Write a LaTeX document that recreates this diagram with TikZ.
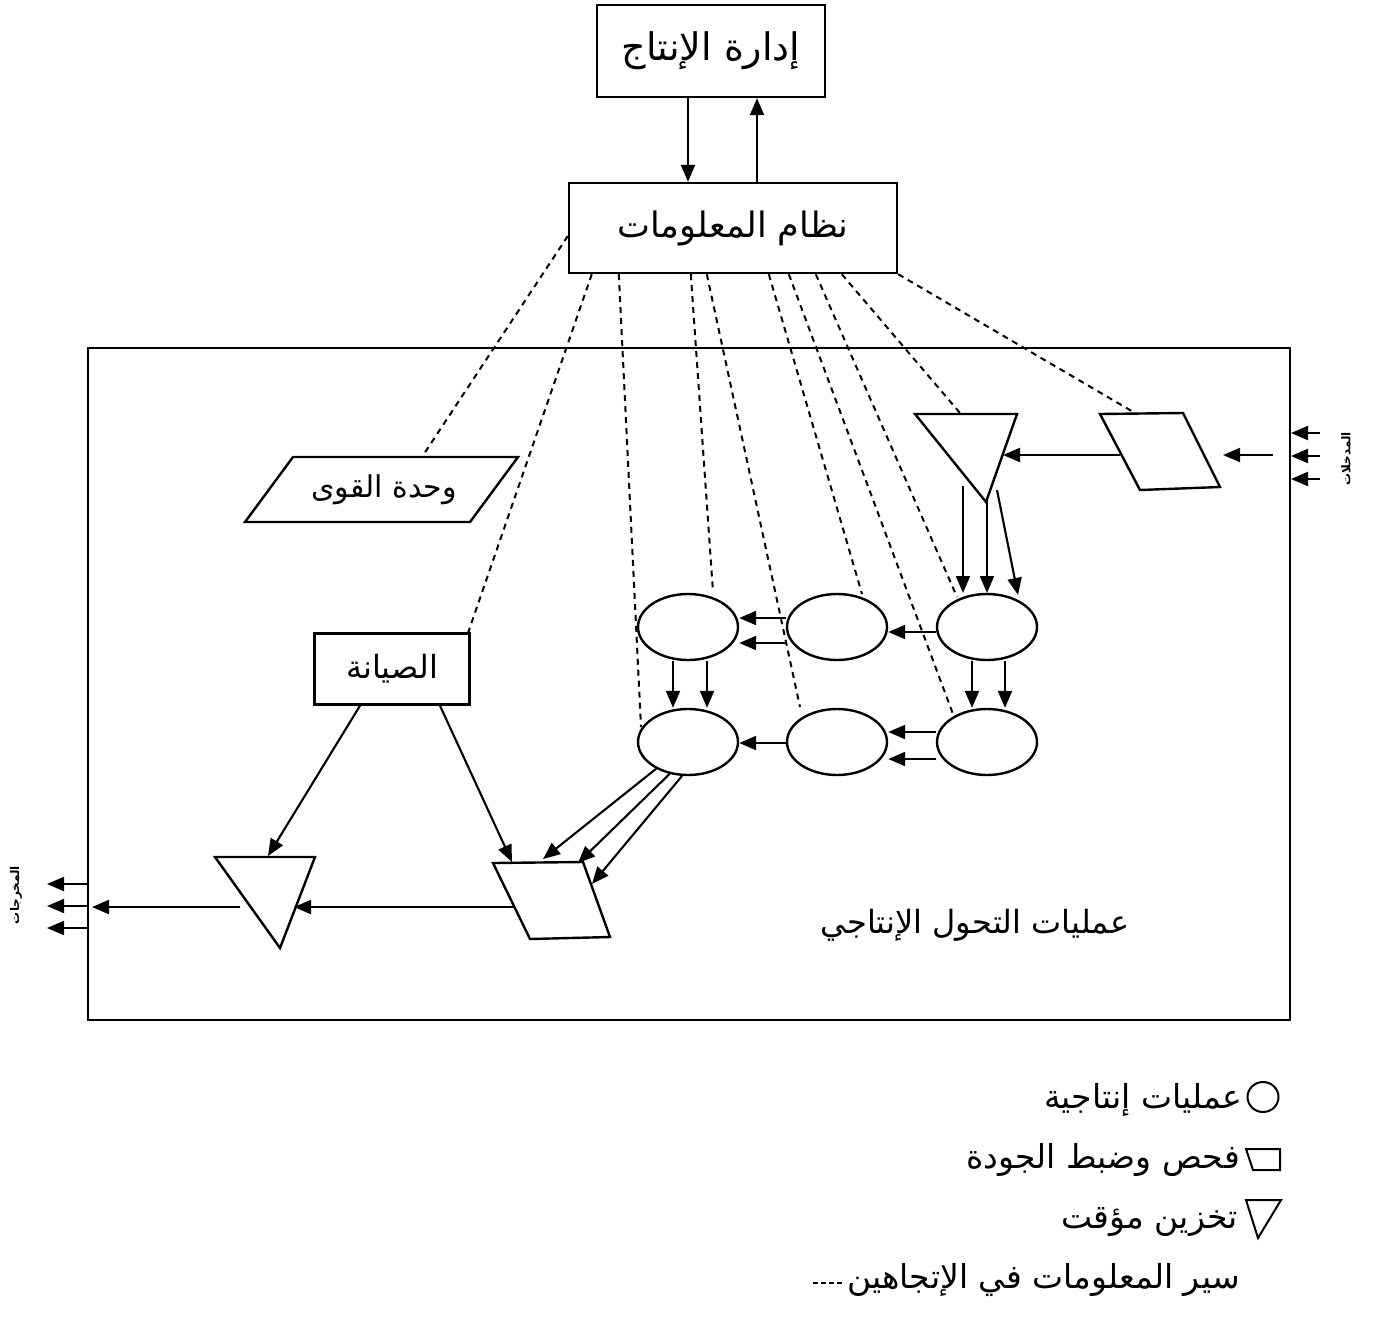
\documentclass[tikz,border=0pt]{standalone}
\usepackage{fontspec}
\usetikzlibrary{arrows.meta,shapes.geometric,calc}
\TeXXeTstate=1
\newfontfamily\arabicfont[Script=Arabic]{DejaVu Sans}
\newcommand{\artxt}[1]{{\arabicfont\beginR #1\endR}}
\begin{document}
\begin{tikzpicture}[x=1pt,y=-1pt,
  shp/.style={draw,line width=2.4pt,line join=miter},
  box/.style={shp,rectangle,inner sep=0pt},
  proc/.style={shp,ellipse,minimum width=100pt,minimum height=66pt,inner sep=0pt},
  arr/.style={line width=2.1pt,-{Triangle[length=17pt,width=14pt]}},
  infoline/.style={line width=2pt,dash pattern=on 6pt off 5pt},
  lbl/.style={inner sep=0pt,font=\fontsize{30}{34}\selectfont},
  leg/.style={inner sep=0pt,font=\fontsize{33}{36}\selectfont},
  side/.style={inner sep=0pt,font=\bfseries\fontsize{12}{14}\selectfont,rotate=90},
]
\useasboundingbox (0,0) rectangle (1375,1318);
\fill[white] (0,0) rectangle (1375,1318);

% frame of the transformation system
\draw[shp] (88,348) rectangle (1290,1020);

% management and information system
\node[box,minimum width=228pt,minimum height=92pt,font=\fontsize{38}{42}\selectfont] (prod) at (711,51) {\artxt{إدارة الإنتاج}};
\node[box,minimum width=328pt,minimum height=90pt,font=\fontsize{35}{40}\selectfont] (info) at (733,228) {\artxt{نظام المعلومات}};
\coordinate (xa) at (688,0);
\coordinate (xb) at (757,0);
\draw[arr] (prod.south -| xa) -- (info.north -| xa);
\draw[arr] (info.north -| xb) -- (prod.south -| xb);

% power unit
\coordinate (P1) at (293,457);
\coordinate (P2) at (518,457);
\coordinate (P3) at (470,522);
\coordinate (P4) at (245,522);
\draw[shp] (P1) -- (P2) -- (P3) -- (P4) -- cycle;
\node[lbl] (pu) at (384,490) {\artxt{وحدة القوى}};

% maintenance
\node[box,minimum width=155pt,minimum height=71pt,font=\fontsize{32}{36}\selectfont] (maint) at (392,669) {\artxt{الصيانة}};

% top-right quality check and storage
\coordinate (Q1) at (1100,414);
\coordinate (Q2) at (1183,413);
\coordinate (Q3) at (1220,487);
\coordinate (Q4) at (1140,490);
\draw[shp] (Q1) -- (Q2) -- (Q3) -- (Q4) -- cycle;
\coordinate (S1) at (915,414);
\coordinate (S2) at (1017,414);
\coordinate (S3) at (986,502);
\draw[shp] (S1) -- (S2) -- (S3) -- cycle;

% bottom quality check and storage
\coordinate (B1) at (493,863);
\coordinate (B2) at (583,862);
\coordinate (B3) at (610,937);
\coordinate (B4) at (530,939);
\draw[shp] (B1) -- (B2) -- (B3) -- (B4) -- cycle;
\coordinate (T1) at (215,857);
\coordinate (T2) at (315,857);
\coordinate (T3) at (280,948);
\draw[shp] (T1) -- (T2) -- (T3) -- cycle;

% processes
\node[proc] (e1) at (688,627) {};
\node[proc] (e2) at (837,627) {};
\node[proc] (e3) at (987,627) {};
\node[proc] (e4) at (688,742) {};
\node[proc] (e5) at (837,742) {};
\node[proc] (e6) at (987,742) {};

% inputs
\foreach \yy/\nm in {433/a,456/b,479/c}{
  \coordinate (in\nm s) at (1320,\yy);
  \coordinate (in\nm e) at (1291,\yy);
  \draw[arr] (in\nm s) -- (in\nm e);
}
\node[side] (inlabel) at (1346,459) {\artxt{المدخلات}};
\coordinate (qa) at (1273,455);
\coordinate (qb) at (1223,455);
\draw[arr] (qa) -- (qb);
\coordinate (qc) at (1120,455);
\coordinate (sc) at (1003,455);
\draw[arr] (qc) -- (sc);

% storage to first process
\coordinate (s1a) at (963,486);
\coordinate (s1b) at (963,593);
\coordinate (s2a) at (987,500);
\coordinate (s2b) at (987,593);
\coordinate (s3a) at (997,490);
\coordinate (s3b) at (1018,595);
\draw[arr] (s1a) -- (s1b);
\draw[arr] (s2a) -- (s2b);
\draw[arr] (s3a) -- (s3b);

% process flows
\draw[arr] ($(e3.west)+(0,5)$) -- ($(e2.east)+(0,5)$);
\draw[arr] ($(e2.west)+(0,-9)$) -- ($(e1.east)+(0,-9)$);
\draw[arr] ($(e2.west)+(0,16)$) -- ($(e1.east)+(0,16)$);
\draw[arr] ($(e1.south)+(-15,0)$) -- ($(e4.north)+(-15,0)$);
\draw[arr] ($(e1.south)+(19,0)$) -- ($(e4.north)+(19,0)$);
\draw[arr] ($(e3.south)+(-15,0)$) -- ($(e6.north)+(-15,0)$);
\draw[arr] ($(e3.south)+(18,0)$) -- ($(e6.north)+(18,0)$);
\draw[arr] ($(e6.west)+(0,-10)$) -- ($(e5.east)+(0,-10)$);
\draw[arr] ($(e6.west)+(0,17)$) -- ($(e5.east)+(0,17)$);
\draw[arr] ($(e5.west)+(0,1)$) -- ($(e4.east)+(0,1)$);

% to bottom quality check
\coordinate (b1) at (543,859);
\coordinate (b2) at (578,863);
\coordinate (b3) at (592,884);
\draw[arr] (e4.-140) -- (b1);
\draw[arr] (e4.-120) -- (b2);
\draw[arr] (e4.-100) -- (b3);

% maintenance arrows
\coordinate (mt) at (268,856);
\coordinate (mb) at (512,862);
\draw[arr] ($(maint.south)+(-32,0)$) -- (mt);
\draw[arr] ($(maint.south)+(48,0)$) -- (mb);

% bottom flow
\coordinate (bq) at (514,907);
\coordinate (bt) at (294,907);
\draw[arr] (bq) -- (bt);
\coordinate (tq) at (240,907);
\coordinate (tf) at (92,907);
\draw[arr] (tq) -- (tf);
\foreach \yy/\nm in {884/a,906/b,928/c}{
  \coordinate (out\nm s) at (88,\yy);
  \coordinate (out\nm e) at (47,\yy);
  \draw[arr] (out\nm s) -- (out\nm e);
}
\node[side] (outlabel) at (16,895) {\artxt{المخرجات}};

\node[lbl,font=\fontsize{32}{36}\selectfont] (sys) at (975,925) {\artxt{عمليات التحول الإنتاجي}};

% information flows (both directions)
\coordinate (d1) at ($(P1)!0.573!(P2)$);
\coordinate (d2) at (468,633);
\coordinate (d3) at (641,727);
\coordinate (d4) at (713,592);
\coordinate (d5) at (800,707);
\coordinate (d6) at (862,594);
\coordinate (d7) at (953,714);
\coordinate (d8) at (957,597);
\coordinate (d9) at (960,413);
\coordinate (d10) at (1135,413);
\draw[infoline] ($(info.west)+(0,8)$) -- (d1);
\draw[infoline] ($(info.south west)+(24,0)$) -- (d2);
\draw[infoline] ($(info.south west)+(51,0)$) -- (d3);
\draw[infoline] ($(info.south west)+(123,0)$) -- (d4);
\draw[infoline] ($(info.south west)+(139,0)$) -- (d5);
\draw[infoline] ($(info.south west)+(201,0)$) -- (d6);
\draw[infoline] ($(info.south west)+(221,0)$) -- (d7);
\draw[infoline] ($(info.south west)+(248,0)$) -- (d8);
\draw[infoline] ($(info.south west)+(274,0)$) -- (d9);
\draw[infoline] (info.south east) -- (d10);

% legend
\node[draw,line width=2pt,ellipse,minimum width=31pt,minimum height=30pt,inner sep=0pt] (lg1) at (1263,1097) {};
\node[leg,anchor=east] (lt1) at (1242,1100) {\artxt{عمليات إنتاجية}};
\coordinate (L1) at (1246,1149);
\coordinate (L2) at (1280,1149);
\coordinate (L3) at (1280,1170);
\coordinate (L4) at (1253,1170);
\draw[line width=2pt] (L1) -- (L2) -- (L3) -- (L4) -- cycle;
\node[leg,anchor=east] (lt2) at (1240,1160) {\artxt{فحص وضبط الجودة}};
\coordinate (L5) at (1246,1200);
\coordinate (L6) at (1281,1200);
\coordinate (L7) at (1258,1238);
\draw[line width=2pt] (L5) -- (L6) -- (L7) -- cycle;
\node[leg,anchor=east] (lt3) at (1238,1222) {\artxt{تخزين مؤقت}};
\node[leg,anchor=east] (lt4) at (1240,1280) {\artxt{سير المعلومات في الإتجاهين}};
\coordinate (ld) at ($(lt4.west)+(-34,3)$);
\draw[line width=1.8pt,dash pattern=on 5pt off 3pt] (ld) -- ($(lt4.west)+(-4,3)$);
\end{tikzpicture}
\end{document}
